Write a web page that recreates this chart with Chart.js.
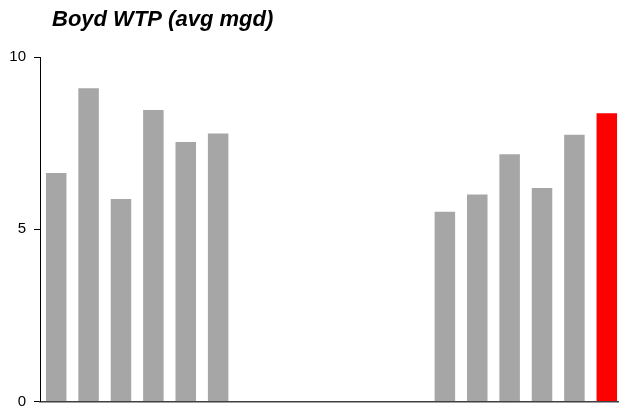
<!DOCTYPE html>
<html>
<head>
<meta charset="utf-8">
<script src="https://cdn.jsdelivr.net/npm/chart.js@4"></script>
<style>
  html, body { margin: 0; padding: 0; background: #fff; overflow: hidden; }
  #wrap { width: 623px; height: 409px; }
</style>
</head>
<body>
<div id="wrap"><canvas id="boydChart" width="623" height="409"></canvas></div>
<script>
// data
const categories = ['1', '2', '3', '4', '5', '6', '7', '8', '9',
  '10', '11', '12', '13', '14', '15', '16', '17', '18'];
const avgMgd = [6.63, 9.09, 5.88, 8.46, 7.53, 7.78,
  null, null, null, null, null, null,
  5.51, 6.01, 7.18, 6.20, 7.74, 8.37];
const yTicks = [0, 5, 10];
const chartTitle = 'Boyd WTP (avg mgd)';

const barColors = avgMgd.map((v, i) => i === avgMgd.length - 1 ? '#ff0000' : '#a6a6a6');

// title sits off to the left, not centred, so draw it by hand
const titlePlugin = {
  id: 'leftTitle',
  afterDraw(chart) {
    const ctx = chart.ctx;
    ctx.save();
    ctx.font = 'italic bold 22px "Liberation Sans", Arial, sans-serif';
    ctx.fillStyle = '#000';
    ctx.textBaseline = 'alphabetic';
    ctx.fillText(chartTitle, 52, 26);
    ctx.restore();
  }
};

const ctx = document.getElementById('boydChart').getContext('2d');
new Chart(ctx, {
  type: 'bar',
  data: {
    labels: categories,
    datasets: [{
      label: chartTitle,
      data: avgMgd,
      backgroundColor: barColors,
      categoryPercentage: 1,
      barPercentage: 0.633
    }]
  },
  options: {
    responsive: false,
    animation: false,
    devicePixelRatio: 1,
    layout: { padding: { top: 57, bottom: 7.5, left: 0, right: 0 } },
    scales: {
      x: {
        ticks: { display: false },
        grid: { display: false },
        border: { display: true, color: '#404040', width: 1.5 },
        afterFit(scale) { scale.height = 0; }
      },
      y: {
        min: 0,
        max: 10,
        afterFit(scale) {
          scale.width = 40;
          scale.paddingTop = 0;
          scale.paddingBottom = 0;
        },
        afterBuildTicks(scale) { scale.ticks = yTicks.map(v => ({ value: v })); },
        ticks: {
          color: '#000',
          padding: 8,
          font: { family: '"Liberation Sans", Arial, sans-serif', size: 15 }
        },
        grid: { display: true, drawOnChartArea: false, drawTicks: true, tickLength: 6, color: '#000' },
        border: { display: true, color: '#000', width: 1 }
      }
    },
    plugins: {
      legend: { display: false },
      tooltip: { enabled: false }
    }
  },
  plugins: [titlePlugin]
});
</script>
</body>
</html>
